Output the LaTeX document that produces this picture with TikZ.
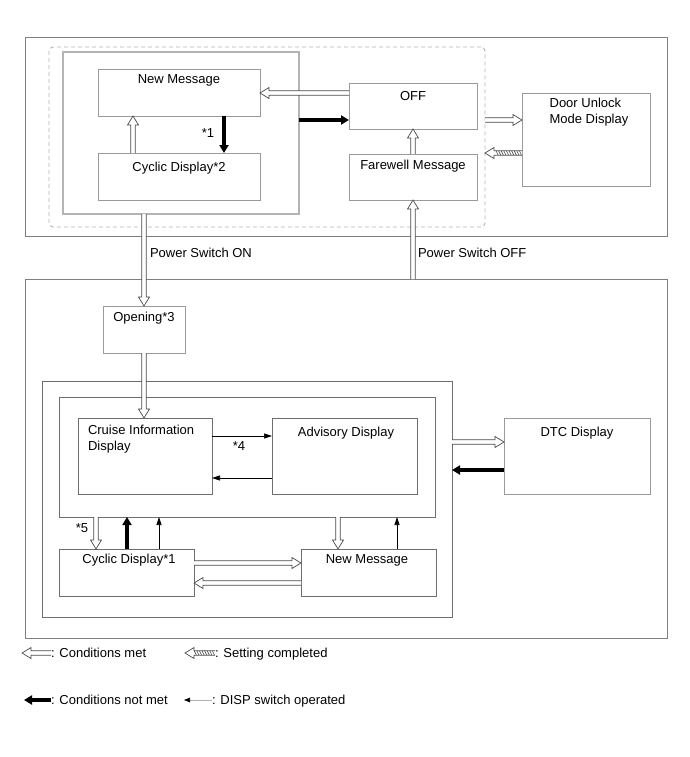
\documentclass[tikz,border=0pt]{standalone}
\usepackage{fontspec}
\setmainfont{Liberation Sans}
\usetikzlibrary{arrows.meta,decorations.markings,calc}
\definecolor{ogray}{HTML}{808080}
\definecolor{lgray}{HTML}{B4B4B4}
\definecolor{bgray}{HTML}{9A9A9A}
\definecolor{dgray}{HTML}{6E6E6E}
\definecolor{agray}{HTML}{4A4A4A}
\tikzset{
  obox/.style={draw=ogray, line width=0.8pt, inner sep=0pt, outer sep=0pt},
  ibox/.style={draw=lgray, line width=1.2pt, inner sep=0pt, outer sep=0pt},
  sbox/.style={draw=bgray, line width=0.9pt, inner sep=0pt, outer sep=0pt},
  dbox/.style={draw=dgray, line width=0.8pt, inner sep=0pt, outer sep=0pt},
  dashbox/.style={draw=lgray, line width=0.9pt, dash pattern=on 4pt off 3pt, rounded corners=4pt, inner sep=0pt, outer sep=0pt},
  txt/.style={font=\fontsize{13}{16}\selectfont, inner sep=0pt, outer sep=0pt},
  harrow/.style={draw=agray, line width=0.7pt, fill=white, line join=miter},
  hatchline/.style={draw=agray, line width=0.6pt},
  thickarrow/.style={draw=black, line width=3.2pt, -{Triangle[length=8pt,width=9pt]}},
  thinarrow/.style={draw=black, line width=0.7pt, -{Triangle[length=8pt,width=5pt]}},
}
\newcommand\mybox[6]{\node[#1, anchor=north west, minimum width={#5-#3}, minimum height={#6-#4}] (#2) at (#3,#4) {};}
\newcommand\tx[4]{\node[txt, anchor=base] (#1) at (#2,#3+4.7) {#4};}
% hollow (double-outlined) arrow from #1 to #2
\newcommand\hollowarrow[2]{%
  \path #1 coordinate (ha-a) #2 coordinate (ha-b);
  \path ($(ha-b)!9pt!(ha-a)$) coordinate (ha-h);
  \draw[harrow] ($(ha-a)!2.2pt!90:(ha-b)$) -- ($(ha-h)!2.2pt!-90:(ha-a)$)
     -- ($(ha-h)!5.5pt!-90:(ha-a)$) -- (ha-b) -- ($(ha-h)!5.5pt!90:(ha-a)$)
     -- ($(ha-h)!2.2pt!90:(ha-a)$) -- ($(ha-a)!2.2pt!-90:(ha-b)$);
}
\newcommand\hatcharrow[2]{%
  \hollowarrow{#1}{#2}%
  \path[postaction={decorate, decoration={markings, mark=between positions 1.5pt and -0.5pt step 2.6pt with {\draw[hatchline] (-1pt,2pt) -- (1pt,-2pt);}}}] (ha-a) -- (ha-h);
}
\begin{document}
\begin{tikzpicture}[x=1pt,y=-1pt]
\useasboundingbox (0,0) rectangle (690,757);
% ---------- top part ----------
\mybox{obox}{topo}{25}{37}{667}{236}
\mybox{dashbox}{dash}{49}{47}{485}{227}
\mybox{ibox}{inner1}{63}{52}{299}{214}
\mybox{sbox}{nm1}{98}{69}{260}{116}
\mybox{sbox}{cd2}{98}{153}{260}{200}
\mybox{sbox}{off}{349}{83}{477}{129}
\mybox{sbox}{fw}{349}{154}{477}{200}
\mybox{sbox}{door}{522}{93}{650}{186}
\tx{nm1t}{179}{79}{New Message}
\tx{cd2t}{179}{167}{Cyclic Display*2}
\tx{offt}{413}{96}{OFF}
\tx{fwt}{413}{165}{Farewell Message}
\node[txt, align=left, anchor=north] (doort) at (589,98.3) {Door Unlock\\Mode Display};
% ---------- bottom part ----------
\mybox{obox}{boto}{25}{279}{667}{638}
\mybox{sbox}{open}{103}{306}{185}{353}
\mybox{dbox}{mid}{42}{381}{452}{617}
\mybox{dbox}{lvl3}{59}{397}{435}{517}
\mybox{dbox}{cruise}{78}{418}{212}{494}
\mybox{dbox}{adv}{272}{418}{417}{494}
\mybox{sbox}{dtc}{504}{418}{650}{494}
\mybox{dbox}{cd1}{59}{549}{194}{596}
\mybox{dbox}{nm2}{301}{549}{436}{596}
\tx{opent}{144}{317}{Opening*3}
\node[txt, align=left, anchor=north west] (cruiset) at (88,425.3) {Cruise Information\\Display};
\tx{advt}{346}{432}{Advisory Display}
\tx{dtct}{577}{432}{DTC Display}
\tx{cd1t}{129}{559}{Cyclic Display*1}
\tx{nm2t}{367}{559}{New Message}
% ---------- connectors, top ----------
\hollowarrow{(off.west |- 0,93)}{(nm1.east |- 0,93)}
\draw[thickarrow] (inner1.east |- 0,120) -- (off.west |- 0,120);
\draw[thickarrow] (nm1.south -| 224,0) -- (cd2.north -| 224,0);
\tx{s1}{208}{133}{*1}
\hollowarrow{(cd2.north -| 133,0)}{(nm1.south -| 133,0)}
\hollowarrow{(fw.north)}{(off.south)}
\hollowarrow{(dash.east |- 0,120)}{(door.west |- 0,120)}
\hatcharrow{(door.west |- 0,153)}{(dash.east |- 0,153)}
\hollowarrow{(inner1.south -| open.north)}{(open.north)}
\node[txt, anchor=base west] (pson) at (150,257.4) {Power Switch ON};
\hollowarrow{(boto.north -| fw.south)}{(fw.south)}
\node[txt, anchor=base west] (psoff) at (418,257.4) {Power Switch OFF};
% ---------- connectors, bottom ----------
\hollowarrow{(open.south)}{(cruise.north -| open.south)}
\draw[thinarrow] (cruise.east |- 0,436) -- (adv.west |- 0,436);
\tx{s4}{239}{446}{*4}
\draw[thinarrow] (adv.west |- 0,478) -- (cruise.east |- 0,478);
\hollowarrow{(mid.east |- 0,442)}{(dtc.west |- 0,442)}
\draw[thickarrow] (dtc.west |- 0,470) -- (mid.east |- 0,470);
\hollowarrow{(lvl3.south -| 96,0)}{(cd1.north -| 96,0)}
\tx{s5}{82}{528}{*5}
\draw[thickarrow] (cd1.north -| 127,0) -- (lvl3.south -| 127,0);
\draw[thinarrow] (cd1.north -| 159,0) -- (lvl3.south -| 159,0);
\hollowarrow{(lvl3.south -| 338,0)}{(nm2.north -| 338,0)}
\draw[thinarrow] (nm2.north -| 397,0) -- (lvl3.south -| 397,0);
\hollowarrow{(cd1.east |- 0,563)}{(nm2.west |- 0,563)}
\hollowarrow{(nm2.west |- 0,583)}{(cd1.east |- 0,583)}
% ---------- legend ----------
\coordinate (l1a) at (51,653); \coordinate (l1b) at (22,653);
\hollowarrow{(l1a)}{(l1b)}
\node[txt, anchor=base west] (l1t) at (51,657.7) {: Conditions met};
\coordinate (l2a) at (215,653); \coordinate (l2b) at (185,653);
\hatcharrow{(l2a)}{(l2b)}
\node[txt, anchor=base west] (l2t) at (215,657.7) {: Setting completed};
\coordinate (l3a) at (51,700); \coordinate (l3b) at (24,700);
\draw[thickarrow] (l3a) -- (l3b);
\node[txt, anchor=base west] (l3t) at (51,704.7) {: Conditions not met};
\coordinate (l4a) at (212,700); \coordinate (l4b) at (184,700);
\draw[draw=black!30, line width=0.7pt, -{Triangle[length=6pt,width=4.5pt,color=black]}] (l4a) -- (l4b);
\node[txt, anchor=base west] (l4t) at (212,704.7) {: DISP switch operated};
\end{tikzpicture}
\end{document}
